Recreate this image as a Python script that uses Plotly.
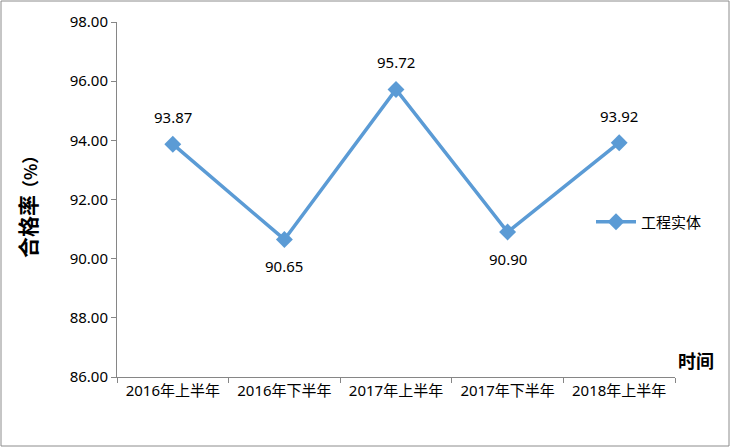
import plotly.graph_objects as go

periods = ["2016年上半年", "2016年下半年", "2017年上半年", "2017年下半年", "2018年上半年"]
pass_rate = [93.87, 90.65, 95.72, 90.90, 93.92]
label_above = [True, False, True, False, True]
y_ticks = [86, 88, 90, 92, 94, 96, 98]

W, H = 730, 447
L, R, T, B = 117, 55, 22, 70
pw, ph = W - L - R, H - T - B

font = "Noto Sans, Noto Sans CJK SC, sans-serif"
blue = "#5B9BD5"

fig = go.Figure()
fig.add_trace(go.Scatter(
    x=periods, y=pass_rate, name="工程实体",
    mode="lines+markers",
    line=dict(color=blue, width=3.5),
    marker=dict(symbol="diamond", size=13, color=blue),
    cliponaxis=False,
))

# data labels, kept a bit away from the markers
labels = [
    dict(x=p, y=v, xref="x", yref="y", text=f"{v:.2f}", showarrow=False,
         yshift=27 if up else -27, font=dict(size=15))
    for p, v, up in zip(periods, pass_rate, label_above)
]

fig.update_layout(
    width=W, height=H,
    margin=dict(l=L, r=R, t=T, b=B),
    paper_bgcolor="white", plot_bgcolor="white",
    font=dict(family=font, size=15, color="#000000"),
    showlegend=True,
    legend=dict(x=(591 - L) / pw, y=(H - B - 222) / ph, xanchor="left", yanchor="middle",
                font=dict(size=15, family="Noto Sans CJK SC"), bgcolor="rgba(0,0,0,0)",
                itemwidth=40),
    xaxis=dict(
        type="category", range=[-0.5, 4.5],
        showline=True, linecolor="#868686", linewidth=1,
        ticks="outside", tickson="boundaries", ticklen=5, tickcolor="#868686",
        showgrid=False, tickfont=dict(size=15),
    ),
    yaxis=dict(
        range=[86, 98], tickvals=y_ticks,
        ticktext=[f"{v:.2f}" for v in y_ticks],
        showline=True, linecolor="#868686", linewidth=1,
        ticks="outside", ticklen=5, tickcolor="#868686",
        showgrid=False, zeroline=False, tickfont=dict(size=15),
    ),
    annotations=labels + [
        dict(text="<b>合格率</b>",
             textangle=-90, xref="paper", yref="paper",
             x=(27 - L) / pw, y=(H - B - 227) / ph, xanchor="center", yanchor="middle",
             showarrow=False, font=dict(size=21, family="Noto Sans CJK SC")),
        dict(text="<b>（%）</b>",
             textangle=-90, xref="paper", yref="paper",
             x=(29 - L) / pw, y=(H - B - 172) / ph, xanchor="center", yanchor="middle",
             showarrow=False, font=dict(size=17, family="Noto Sans CJK SC")),
        dict(text="<b>时间</b>", xref="paper", yref="paper",
             x=(696 - L) / pw, y=(H - B - 360) / ph, xanchor="center", yanchor="middle",
             showarrow=False, font=dict(size=18, family="Noto Sans CJK SC")),
    ],
    shapes=[dict(type="rect", xref="paper", yref="paper",
                 x0=(1 - L) / pw, x1=(729 - L) / pw,
                 y0=(H - B - 446) / ph, y1=(H - B - 1) / ph,
                 line=dict(color="#8C8C8C", width=1))],
)

fig.write_html("out.html", config={"displayModeBar": False},
               post_script="document.body.style.margin='0';")
